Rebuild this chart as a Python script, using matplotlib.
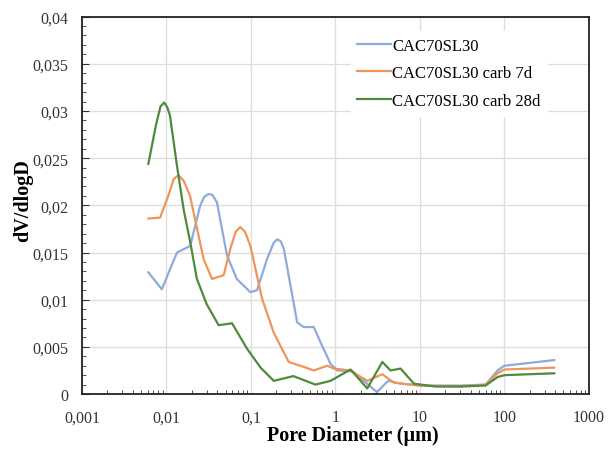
import numpy as np
import matplotlib
matplotlib.use("Agg")
import matplotlib.pyplot as plt
from matplotlib.ticker import FixedLocator, LogLocator, MultipleLocator, FuncFormatter

# pore diameter (um) / dV/dlogD
d_ref = [0.0061, 0.0088, 0.0133, 0.0191, 0.0251, 0.028, 0.0315, 0.035, 0.0396, 0.052, 0.068,
         0.0984, 0.118, 0.155, 0.185, 0.204, 0.225, 0.245, 0.352, 0.422, 0.554, 0.665, 0.875,
         1.05, 1.6, 2.3, 3.1, 4.2, 6.0, 10, 30, 60, 83, 100, 390]
v_ref = [0.0129, 0.0111, 0.0150, 0.0157, 0.0200, 0.0209, 0.0212, 0.0211, 0.0203, 0.0147, 0.0122,
         0.0108, 0.0110, 0.0143, 0.0160, 0.0164, 0.0162, 0.0154, 0.0076, 0.0071, 0.0071, 0.0055, 0.0032,
         0.0025, 0.0024, 0.0012, 0.0002, 0.0014, 0.0011, 0.0009, 0.0009, 0.0010, 0.0025, 0.0030, 0.0036]

d_7d = [0.0061, 0.0084, 0.0105, 0.0122, 0.0139, 0.016, 0.019, 0.0275, 0.0346, 0.0475, 0.057,
        0.066, 0.0748, 0.085, 0.0984, 0.1355, 0.186, 0.28, 0.385, 0.554, 0.8, 0.957, 1.5,
        2.38, 3.59, 4.93, 10, 30, 60, 83, 100, 390]
v_7d = [0.0186, 0.0187, 0.0210, 0.0228, 0.0232, 0.0226, 0.0210, 0.0143, 0.0122, 0.0126, 0.0154,
        0.0172, 0.0177, 0.0172, 0.0157, 0.0101, 0.0065, 0.0034, 0.0030, 0.0025, 0.0030, 0.0027, 0.0025,
        0.0014, 0.0021, 0.0012, 0.0009, 0.0008, 0.0010, 0.0022, 0.0026, 0.0028]

d_28d = [0.0061, 0.0075, 0.0085, 0.0094, 0.0102, 0.0110, 0.0133, 0.0160, 0.0191, 0.0229, 0.030,
         0.0414, 0.0597, 0.090, 0.13, 0.186, 0.318, 0.58, 0.875, 1.51, 2.38,
         3.59, 4.5, 5.9, 8.5, 15, 30, 60, 83, 100, 390]
v_28d = [0.0244, 0.0285, 0.0305, 0.0309, 0.0304, 0.0295, 0.0242, 0.0195, 0.0161, 0.0122, 0.0095,
         0.0073, 0.0075, 0.0048, 0.0028, 0.0014, 0.0019, 0.0010, 0.0014, 0.0026, 0.0006,
         0.0034, 0.0025, 0.0027, 0.0011, 0.0008, 0.0008, 0.0009, 0.0018, 0.0020, 0.0022]

labels = ["CAC70SL30", "CAC70SL30 carb 7d", "CAC70SL30 carb 28d"]
colors = ["#8FAADC", "#F0955A", "#4F8A3C"]

x_ticks = [0.001, 0.01, 0.1, 1, 10, 100, 1000]
x_ticklabels = ["0,001", "0,01", "0,1", "1", "10", "100", "1000"]

plt.rcParams["font.family"] = ["Liberation Serif", "DejaVu Serif"]

fig = plt.figure(figsize=(6.14, 4.52), dpi=100)
ax = fig.add_axes([0.1336, 0.126, 0.8254, 0.835])

for d, v, lab, c in zip([d_ref, d_7d, d_28d], [v_ref, v_7d, v_28d], labels, colors):
    ax.plot(d, v, color=c, lw=1.6, label=lab, solid_joinstyle="round")

ax.set_xscale("log")
ax.set_xlim(0.001, 1000)
ax.set_ylim(0, 0.04)

ax.xaxis.set_major_locator(FixedLocator(x_ticks))
ax.set_xticklabels(x_ticklabels)
ax.xaxis.set_minor_locator(LogLocator(base=10, subs=np.arange(2, 10)))
ax.xaxis.set_minor_formatter(plt.NullFormatter())

ax.yaxis.set_major_locator(MultipleLocator(0.005))
ax.yaxis.set_minor_locator(MultipleLocator(0.001))
ax.yaxis.set_major_formatter(FuncFormatter(lambda v, p: "0" if v == 0 else f"{v:g}".replace(".", ",")))

ax.tick_params(axis="both", which="major", direction="in", length=5, labelsize=11.5, colors="#333333")
ax.tick_params(axis="y", which="major", pad=10)
ax.tick_params(axis="x", which="major", length=0, pad=11)
ax.tick_params(axis="both", which="minor", direction="in", length=3, colors="#333333")

ax.grid(True, which="major", color="#DDDDDD", lw=0.9)
ax.set_axisbelow(True)
for s in ax.spines.values():
    s.set_color("#222222")
    s.set_linewidth(1.3)

ax.set_xlabel("Pore Diameter (\u00b5m)", fontsize=14.5, fontweight="bold")
ax.set_ylabel("dV/dlogD", fontsize=14.5, fontweight="bold")
ax.xaxis.set_label_coords(0.534, -0.083)
ax.yaxis.set_label_coords(-0.097, 0.515)

leg = ax.legend(loc="upper left", bbox_to_anchor=(0.53, 0.962), frameon=True, fontsize=12,
                handlelength=2.0, handletextpad=0.1, labelspacing=0.7, borderaxespad=0)
leg.get_frame().set_edgecolor("white")
leg.get_frame().set_facecolor("white")
leg.get_frame().set_alpha(1)

fig.savefig("out.png", dpi=100)
